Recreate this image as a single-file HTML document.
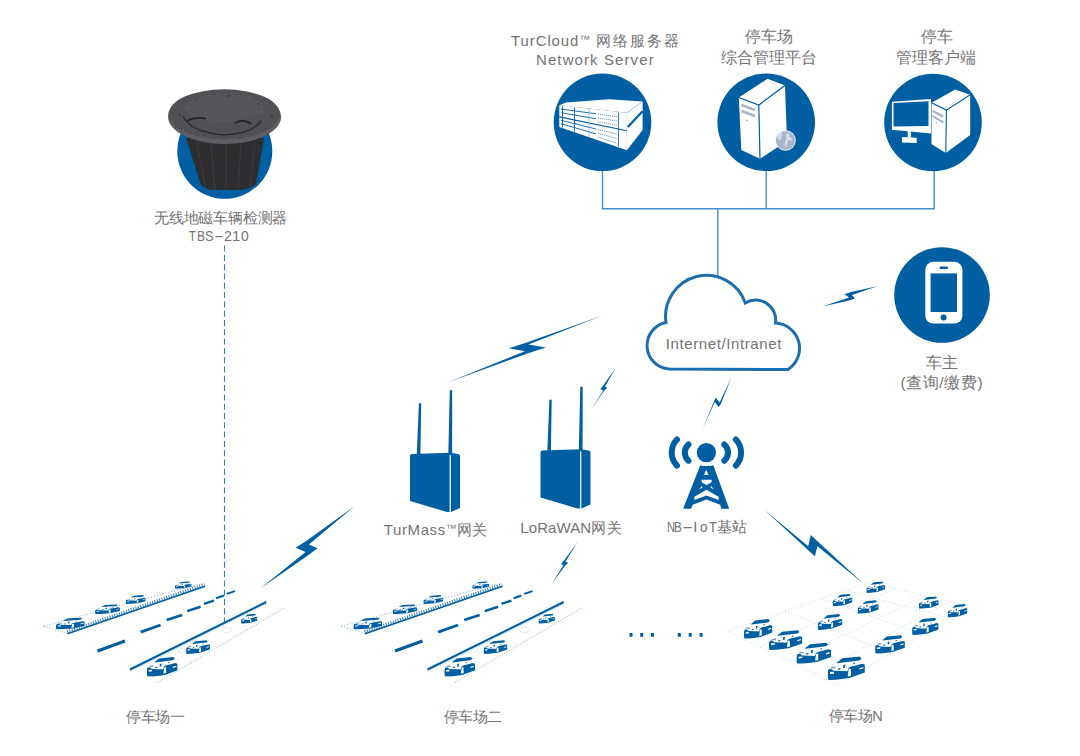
<!DOCTYPE html>
<html><head><meta charset="utf-8">
<style>
html,body{margin:0;padding:0;background:#fff;width:1080px;height:756px;overflow:hidden;position:relative}
.t{position:absolute;font-family:"Liberation Sans",sans-serif;color:#737373;white-space:nowrap;line-height:1}
svg{position:absolute;left:0;top:0}
</style></head><body>
<svg width="1080" height="756" viewBox="0 0 1080 756">
<defs>
<symbol id="car" viewBox="0 0 36 21" preserveAspectRatio="none">
<path fill="#005ea3" d="M8.9,5.7 L14.3,1.8 L31,0.2 L32.7,2.2 L30.4,3.8 L9.5,6.1 Z"/>
<path fill="#005ea3" d="M0.4,12.5 L2,11 L4,11.4 L6,12.8 L14,13.1 L19,13.3 L20.5,10 L23,9 L28,8 L33,6.6 L35.8,7.3 L35.8,14.3 L21,19.2 L8,20.7 L0.8,20.9 L0.2,18 Z"/>
<path fill="#fff" d="M19.4,18 L20.2,11.8 Q21.2,10.2 22.4,11.5 L22.6,17.2 Z"/>
<path fill="#fff" d="M2.4,14 L6.2,13.7 L6.2,15.4 L2.4,15.7 Z"/>
<path fill="#fff" d="M30.5,10.5 L34.3,9.4 L34.3,10.8 L30.5,11.8 Z"/>
<path fill="#6f9fd0" d="M3,9.4 L7.5,9 L7.8,10.5 L3.3,10.9 Z"/>
<path fill="#005ea3" d="M15.3,7.6 L17.4,7.2 L16.8,10.2 L15,10.6 Z"/>
<path fill="#005ea3" d="M10,10.8 L12.5,10.4 L12.3,11.6 L10,12 Z"/>
<path fill="#005ea3" d="M24,6.5 L26.5,5.3 L26,7 Z"/>
</symbol>
<g id="lot">
<path d="M43.75,626.25 L200,583.75 M43.75,626.25 L67.5,633.75" stroke="#7aaad6" stroke-width="0.9" stroke-dasharray="1 2" fill="none"/>
<path d="M67.5,633.75 L205,586.25" stroke="#005ea3" stroke-width="1.6" fill="none"/>
<path d="M67,631.8 L204.5,584.3" stroke="#005ea3" stroke-width="3" stroke-dasharray="1 1.5" fill="none" opacity="0.8"/>
<g stroke="#005ea3" stroke-linecap="butt" fill="none">
<path d="M97.5,651 L125,641" stroke-width="3.2"/>
<path d="M140.6,632.2 L160.6,625" stroke-width="2.9"/>
<path d="M166.7,620 L182.2,615" stroke-width="2.7"/>
<path d="M187.2,611.1 L200.6,606.7" stroke-width="2.5"/>
<path d="M203.9,603.9 L213.9,600.6" stroke-width="2.3"/>
<path d="M216.1,598.3 L223.9,595.6" stroke-width="2.1"/>
<path d="M226.7,593.9 L235,591.1" stroke-width="2"/>
</g>
<path d="M130,669.5 L266.2,602" stroke="#005ea3" stroke-width="2" fill="none"/>
<path d="M130.6,670.8 L266.4,603.6" stroke="#005ea3" stroke-width="1.6" stroke-dasharray="0.9 1.3" fill="none" opacity="0.35"/>
<g fill="none" stroke="#a9c6e4" stroke-width="0.8" stroke-dasharray="1 1.5">
<ellipse cx="226.9" cy="629.8" rx="5" ry="2.8"/>
<ellipse cx="182" cy="651" rx="4" ry="2.2"/>
<ellipse cx="70" cy="630" rx="3" ry="1.6"/>
<ellipse cx="160" cy="594" rx="3" ry="1.6"/>
</g>
<path d="M157.5,682.5 L285,607.5" stroke="#7aaad6" stroke-width="0.9" stroke-dasharray="1 1.6" fill="none"/>
<use href="#car" x="55.8" y="617.5" width="29" height="12"/>
<use href="#car" x="95" y="604.2" width="25" height="10"/>
<use href="#car" x="125.8" y="595" width="20" height="9"/>
<use href="#car" x="174.7" y="581.3" width="17" height="7.5"/>
<use href="#car" x="146.7" y="656.7" width="31" height="20"/>
<use href="#car" x="186" y="640" width="24" height="14"/>
<use href="#car" x="241" y="613.7" width="16.5" height="10"/>
</g>
</defs>
<!-- connector lines -->
<g stroke="#4290cb" stroke-width="1.4" fill="none">
<path d="M602.5 170 V208.8 H934.2 V170"/>
<path d="M766.2 170 V208.8"/>
<path d="M717.8 208.8 V276"/>
</g>
<!-- top circles -->
<circle cx="602.5" cy="122.3" r="48.8" fill="#005ea3"/>
<circle cx="766.2" cy="122.3" r="48.8" fill="#005ea3"/>
<circle cx="933" cy="122.5" r="48.8" fill="#005ea3"/>
<circle cx="942" cy="295" r="47.8" fill="#005ea3"/>

<!-- cloud -->
<path d="M666,322.5 A41,41 0 0 1 745.3,303 A20,20 0 0 1 775.5,323 A25.3,25.3 0 0 1 788,369.5 L669,369 A23.5,23.5 0 0 1 666,322.5 Z" fill="#fff" stroke="#1c6eae" stroke-width="3"/>
<!-- gateways -->
<g id="gw" fill="#005ea3">
<path d="M416.8,455 L420.4,455 L421.2,403.5 Q420,402.6 418.9,403.5 Z M448.3,455 L452.1,455 L452.2,390.5 Q451,389.6 449.8,390.5 Z"/>
<path d="M410,456 Q410,454 412,454 L449.6,452.8 L449.6,512 L447,512 L410,501 Z"/>
<path d="M450.8,452.8 L458,454 Q460,454.5 460,456 L460,508 L451,512 L450.8,512 Z"/>
</g>
<use href="#gw" x="130.5" y="-3.5"/>
<!-- tower -->
<g fill="#005ea3">
<circle cx="706.4" cy="452.6" r="9.6"/>
<path d="M688.48,444.52 A10.7,10.7 0 0 0 688.48,460.68 M724.32,444.52 A10.7,10.7 0 0 1 724.32,460.68 M676.98,439.54 A18.8,18.8 0 0 0 676.98,465.66 M735.82,439.54 A18.8,18.8 0 0 1 735.82,465.66" fill="none" stroke="#005ea3" stroke-width="6" stroke-linecap="round"/>
<path d="M700.3,465.2 Q706.5,467 713.3,465.2 L729.2,508.8 L721.3,508.8 L720.2,504.7 L706.5,499.5 L692.7,504.7 L691,508.8 L683.1,508.8 Z"/>
</g>
<g fill="#fff">
<path d="M706.1,469.6 L708.5,475.1 L704.1,475.1 Z"/>
<path d="M701.3,479.8 L711.9,479.8 L711.3,482.4 L706.6,485 L701.9,482.4 Z"/>
<path d="M706.5,489.8 L718.6,496.8 L718.6,500 L706.5,495.6 L694.4,500 L694.4,496.8 Z"/>
<path d="M699,489.5 L701.8,486 L702.6,487.6 Z M714,489.5 L711.2,486 L710.4,487.6 Z"/>
</g>
<!-- phone -->
<rect x="925.3" y="261.8" width="37.1" height="61.8" rx="8" fill="#fff"/>
<rect x="930.6" y="273.4" width="26.4" height="38.6" fill="#005ea3"/>
<rect x="939.5" y="266.4" width="8.5" height="2.6" rx="1.3" fill="#005ea3"/>
<circle cx="943.6" cy="317.6" r="3" fill="#005ea3"/>
<!-- lots -->
<use href="#lot"/>
<use href="#lot" x="297.5"/>
<!-- dashed sensor line -->
<path d="M224.5,245.6 V622" stroke="#2a7fc0" stroke-width="1.1" stroke-dasharray="6 3.3" fill="none"/>
<!-- sensor circle -->
<circle cx="224.8" cy="151.3" r="47.5" fill="#005ea3"/>
<!-- sensor -->
<path d="M186,138 L264,138 L256,184 Q248,190 240,190 L212,190 Q205,189 201,185 Z" fill="#2e2d30"/>
<g stroke="#38373b" stroke-width="1.6">
<path d="M197,142 L205,186 M211,143 L215,190 M226,143 L226,190 M241,143 L238,190 M255,142 L250,187"/>
</g>
<ellipse cx="224.6" cy="117" rx="56.5" ry="27" fill="#5f5e62"/>
<ellipse cx="224.3" cy="114.3" rx="55.8" ry="25" fill="#515054"/>
<ellipse cx="224" cy="108" rx="40" ry="14" fill="#58575b" opacity="0.8"/>
<path d="M183,116 Q190,132 224,135 Q252,134 261,121" stroke="#2e2d30" stroke-width="1.4" fill="none"/>
<path d="M187,121 Q196,116 206,119 M235,123 Q244,118 251,124" stroke="#252427" stroke-width="1.8" fill="none"/>
<g fill="#2f2e31">
<circle cx="180" cy="115" r="0.9"/><circle cx="196" cy="100" r="0.8"/><circle cx="229" cy="96" r="0.9"/><circle cx="258" cy="104" r="0.8"/><circle cx="272" cy="116" r="0.9"/><circle cx="176" cy="125" r="0.7"/><circle cx="240" cy="138" r="0.8"/><circle cx="205" cy="135" r="0.7"/><circle cx="214" cy="94" r="0.7"/><circle cx="266" cy="128" r="0.7"/>
</g>
<g fill="#8a898d">
<circle cx="188" cy="107" r="0.6"/><circle cx="250" cy="97" r="0.6"/><circle cx="262" cy="112" r="0.6"/><circle cx="183" cy="130" r="0.6"/>
</g>
<!-- server icon -->
<g>
<path d="M559.3,105.3 L566,102.5 L609,99.3 L642.6,101.6 L626.9,112.7 Z" fill="#fff"/>
<path d="M559.3,105.3 L626.9,112.7 L626.9,150.2 L559.3,127 Z" fill="#fff"/>
<path d="M626.9,112.7 L642.6,101.6 L642.6,130 L626.9,150.2 Z" fill="#fff"/>
<path d="M627.8,127 L642.6,111.3" stroke="#005ea3" stroke-width="2.2"/>
<path d="M626.9,112.7 L642.6,101.6" stroke="#9dbde0" stroke-width="0.6"/>
<path d="M561,109.0 L596,113.8" stroke="#005ea3" stroke-width="0.9"/>
<path d="M561,112.8 L596,118.7" stroke="#005ea3" stroke-width="0.9"/>
<path d="M598,114.1 L617,116.7" stroke="#5b93c9" stroke-width="0.9" stroke-dasharray="1.2 0.8"/>
<path d="M598,117.9 L617,121.0" stroke="#5b93c9" stroke-width="0.9" stroke-dasharray="1.2 0.8"/>
<path d="M598,121.7 L617,125.3" stroke="#5b93c9" stroke-width="0.9" stroke-dasharray="1.2 0.8"/>
<path d="M561,120.3 L596,129.0" stroke="#005ea3" stroke-width="0.9"/>
<path d="M561,123.7 L596,133.8" stroke="#005ea3" stroke-width="0.9"/>
<path d="M598,129.4 L617,134.1" stroke="#5b93c9" stroke-width="0.9" stroke-dasharray="1.2 0.8"/>
<path d="M598,133.3 L617,138.6" stroke="#5b93c9" stroke-width="0.9" stroke-dasharray="1.2 0.8"/>
<path d="M598,137.2 L617,143.2" stroke="#5b93c9" stroke-width="0.9" stroke-dasharray="1.2 0.8"/>
<path d="M559.3,116.9 L626.9,130.7" stroke="#005ea3" stroke-width="1.1"/>
<path d="M562.5,106.2 L562.5,127.6" stroke="#005ea3" stroke-width="0.9"/>
<path d="M574.5,107.5 L574.5,131.7" stroke="#005ea3" stroke-width="0.9"/>
<path d="M589,109.1 L589,136.7" stroke="#8fb4da" stroke-width="0.8"/>
<path d="M618.5,112.3 L618.5,146.8" stroke="#005ea3" stroke-width="0.8"/>
</g>
<!-- tower server icon -->
<path d="M738.8,97.5 L767.5,78.8 L785,85.5 L758.8,105 Z" fill="#fff"/>
<path d="M738.8,97.5 L758.8,105 L760,158.8 L741.3,150 Z" fill="#fff"/>
<path d="M758.8,105 L785,85.5 L787,141 L760,158.8 Z" fill="#fff"/>
<path d="M738.8,97.5 L758.8,105 L785,85.5 M758.8,105 L760,158.8" stroke="#005ea3" stroke-width="1.2" fill="none"/>
<path d="M741.5,105 L755,110 M741.5,111 L755,116" stroke="#a4b4cc" stroke-width="2.4"/>
<circle cx="747" cy="120.5" r="0.9" fill="#a4b4cc"/>
<circle cx="785.5" cy="140.5" r="10.3" fill="#f4f6fa"/>
<circle cx="785.5" cy="140.5" r="9.6" fill="#a9b6cb"/>
<path d="M777.5,135.5 Q779.5,132.5 781.5,132 L782.5,134.5 Q780.5,137 781.5,139 L779,140 Q777,138.5 777.5,135.5 Z M786,134 L789,133.5 L789.5,137 L792.5,138.5 L791,141 L788,140 L787.5,144 L785,147.5 L784.5,143 L786.5,139 Z" fill="#d8dfea"/>
<!-- PC icon -->
<path d="M891.9,101.7 L931,99 L931,133.4 L891.9,129.7 Z" fill="#fff"/>
<path d="M893.5,102.9 L928.5,101.2 L928.5,126 L893.5,126.5 Z" fill="#005ea3"/>
<rect x="907.7" y="128.7" width="3.2" height="9" fill="#fff"/>
<path d="M901.9,137.1 L916.7,137.8 L916.7,143 L901.9,142.5 Z" fill="#fff"/>
<path d="M931.5,102.7 L955.3,89.5 L970.2,94.8 L946.4,110.1 Z" fill="#fff"/>
<path d="M931.5,102.7 L946.4,110.1 L945.8,153 L931.5,144 Z" fill="#fff"/>
<path d="M946.4,110.1 L970.2,94.8 L970.2,135 L945.8,153 Z" fill="#fff"/>
<path d="M931.5,102.7 L946.4,110.1 L970.2,94.8 M946.4,110.1 L945.8,153" stroke="#005ea3" stroke-width="1.1" fill="none"/>
<path d="M932.5,110.8 L943.2,116.5 M932.5,116 L943.2,122.3" stroke="#a0b1cb" stroke-width="2"/>
<circle cx="936.5" cy="123" r="0.7" fill="#a0b1cb"/>
<!-- bolts -->
<g fill="#005ea3">
<path d="M447.5,382.5 L525,351.25 L508.75,348.3 L526.7,342.5 L603.3,315.3 L528.3,344.6 L545.8,347.5 L526.7,353.75 Z"/>
<path d="M591.4,409.2 L603.2,390.4 L600.4,388.9 L603.2,385.6 L616,367.5 L605,386.5 L607.2,387.7 L603.9,390.9 Z"/>
<path d="M702.4,429.2 L715.7,397.6 L719.6,402.5 L731.4,377.4 L720.8,404 L718.7,407.1 L714.8,402 Z"/>
<path d="M822.5,306.4 L849,297.5 L844.5,294.3 L851,292 L877.2,286.3 L852,295 L854.9,298.5 L849,300.5 Z"/>
<path d="M260.6,588.3 L305.6,551.9 L295.6,547.7 L306.9,540.6 L354.5,506.2 L308.9,544.6 L317.5,548.3 L308.2,555.2 Z"/>
<path d="M551.3,584.5 L563.4,565.3 L561.1,563.7 L564,560.6 L577.5,542.3 L565.5,561.5 L568,562.7 L564.5,566.5 Z"/>
<path d="M764.6,509.9 L808.2,546.3 L810.8,535 L863.8,584 L817.5,546.3 L814.8,556.2 Z"/>
</g>
<!-- dots -->
<g fill="#005ea3">
<rect x="629.5" y="633" width="3" height="3.8"/><rect x="640.2" y="633" width="3" height="3.8"/><rect x="651" y="633" width="3" height="3.8"/>
<rect x="677.8" y="633" width="3" height="3.8"/><rect x="688.7" y="633" width="3" height="3.8"/><rect x="699.6" y="633" width="3" height="3.8"/>
</g>
<!-- lot N -->
<g stroke="#b4cde8" stroke-width="0.7" stroke-dasharray="1 2.2" fill="none">
<path d="M727.5,631.3 L868.8,582.5 L970,606.3 L837.5,685 Z"/>
<path d="M760,647 L895,589 M790,661 L925,596 M815,674 L950,601"/>
<path d="M750,623 L860,673 M785,611 L895,655 M820,598 L930,637 M845,590 L955,620"/>
</g>
<g>
<use href="#car" x="743.8" y="618.8" width="28.7" height="20"/>
<use href="#car" x="768.8" y="630" width="33.7" height="20"/>
<use href="#car" x="796.3" y="642.5" width="35" height="21.3"/>
<use href="#car" x="827.5" y="656.3" width="37.5" height="23.7"/>
<use href="#car" x="817.5" y="613.8" width="25" height="16.2"/>
<use href="#car" x="832.5" y="593.8" width="20" height="12.5"/>
<use href="#car" x="857.5" y="600" width="21.3" height="13.8"/>
<use href="#car" x="866.3" y="581.3" width="18.7" height="11.7"/>
<use href="#car" x="875" y="635" width="30" height="18.7"/>
<use href="#car" x="912" y="617.5" width="26.7" height="17.5"/>
<use href="#car" x="918.8" y="596.3" width="20" height="12.5"/>
<use href="#car" x="947.5" y="603.8" width="20" height="13.7"/>
</g>

</svg>

<div class="t" style="left:511px;top:33px;font-size:15px;letter-spacing:0.9px;word-spacing:0px">TurCloud<span style="font-size:11px;vertical-align:3px">™</span><span style="letter-spacing:1.9px;word-spacing:-1.2px"> 网络服务器</span></div>
<div class="t" style="left:536px;top:52px;font-size:15px;letter-spacing:1.1px">Network Server</div>
<div class="t" style="left:744.6px;top:29.3px;font-size:15.5px">停车场</div>
<div class="t" style="left:720.6px;top:49.7px;font-size:15.5px">综合管理平台</div>
<div class="t" style="left:921.2px;top:29.3px;font-size:15.5px">停车</div>
<div class="t" style="left:896px;top:49.7px;font-size:15.5px">管理客户端</div>
<div class="t" style="left:154px;top:211.3px;font-size:14.5px;letter-spacing:-0.2px">无线地磁车辆检测器</div>
<div class="t" style="left:0;top:228px;font-size:15px;width:0;height:0"><span style="position:absolute;left:189.4px;transform:scaleX(0.75);transform-origin:0 0">T</span><span style="position:absolute;left:197.2px;transform:scaleX(0.8);transform-origin:0 0">B</span><span style="position:absolute;left:205.1px;transform:scaleX(0.85);transform-origin:0 0">S</span><span style="position:absolute;left:214.3px;transform:scaleX(1.95);transform-origin:0 0">-</span><span style="position:absolute;left:223.9px;transform:scaleX(0.95);transform-origin:0 0">2</span><span style="position:absolute;left:232.0px;transform:scaleX(1.0);transform-origin:0 0">1</span><span style="position:absolute;left:241.3px;transform:scaleX(0.93);transform-origin:0 0">0</span></div>
<div class="t" style="left:665.8px;top:336.2px;font-size:15px;letter-spacing:0.6px">Internet/Intranet</div>
<div class="t" style="left:926px;top:355.3px;font-size:15.5px">车主</div>
<div class="t" style="left:900.4px;top:375px;font-size:15.5px;letter-spacing:0.6px">(查询/缴费)</div>
<div class="t" style="left:383.8px;top:522px;font-size:15px;letter-spacing:0.6px">TurMass<span style="font-size:11px;vertical-align:3px;letter-spacing:0">™</span>网关</div>
<div class="t" style="left:520.3px;top:520px;font-size:15px;letter-spacing:0.1px">LoRaWAN<span style="letter-spacing:1px">网关</span></div>
<div class="t" style="left:0;top:519px;font-size:15px;width:0;height:0">
<span style="position:absolute;left:666.5px;transform:scaleX(0.74);transform-origin:0 0">N</span>
<span style="position:absolute;left:673.8px;transform:scaleX(0.78);transform-origin:0 0">B</span>
<span style="position:absolute;left:682.3px;transform:scaleX(2.2);transform-origin:0 0">-</span>
<span style="position:absolute;left:693.3px">I</span>
<span style="position:absolute;left:700.1px;transform:scaleX(0.9);transform-origin:0 0">o</span>
<span style="position:absolute;left:708.7px;transform:scaleX(0.85);transform-origin:0 0">T</span>
<span style="position:absolute;left:716.5px;top:0px;letter-spacing:0.6px">基站</span>
</div>
<div class="t" style="left:126.2px;top:710px;font-size:14.5px;letter-spacing:-0.4px">停车场一</div>
<div class="t" style="left:443.7px;top:710px;font-size:14.5px;letter-spacing:-0.4px">停车场二</div>
<div class="t" style="left:828.5px;top:708.7px;font-size:14.5px;letter-spacing:-0.4px">停车场N</div>
</body></html>
